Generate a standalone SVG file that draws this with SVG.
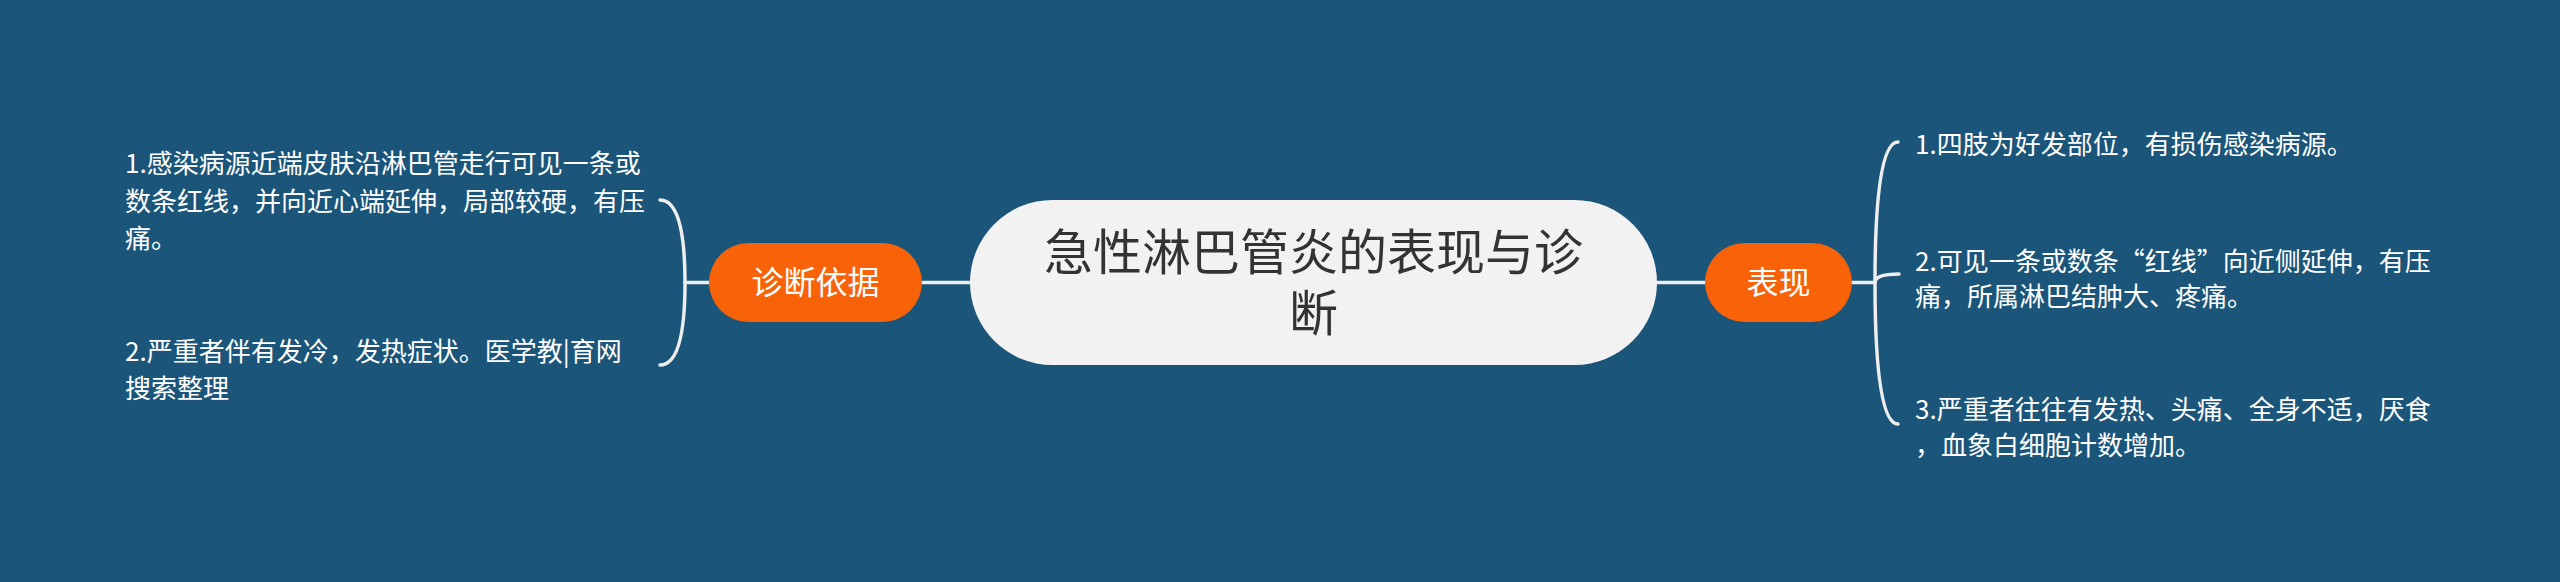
<svg xmlns="http://www.w3.org/2000/svg" width="2560" height="582" viewBox="0 0 2560 582">
  <style>
    .conn { fill: none; stroke: #eeeeee; stroke-width: 3.5; stroke-linecap: round; }
    .leaf { font-family: "Noto Sans CJK SC", "Noto Sans", sans-serif; font-size: 26px; fill: #ffffff; }
    .sub { font-family: "Noto Sans CJK SC", "Noto Sans", sans-serif; font-size: 32px; fill: #ffffff; text-anchor: middle; }
    .title { font-family: "Noto Sans CJK SC", "Noto Sans", sans-serif; font-size: 49px; fill: #333333; text-anchor: middle; }
    .orange { fill: #f86208; }
  </style>
  <rect x="0" y="0" width="2560" height="582" fill="#1b5579"/>

  <g id="connectors">
    <path class="conn" d="M 922 282.5 L 970 282.5"/>
    <path class="conn" d="M 1657 282.5 L 1705 282.5"/>
    <path class="conn" d="M 709 282.5 L 685 282.5"/>
    <path class="conn" d="M 685 282.5 Q 685 200 660 200"/>
    <path class="conn" d="M 685 282.5 Q 685 365 660 365"/>
    <path class="conn" d="M 1852 282.5 L 1875 282.5"/>
    <path class="conn" d="M 1875 282.5 Q 1875 142 1898 142"/>
    <path class="conn" d="M 1875 282.5 Q 1875 274 1899 274"/>
    <path class="conn" d="M 1875 282.5 Q 1875 424 1898 424"/>
  </g>

  <g id="center">
    <rect x="970" y="200" width="687" height="165" rx="82.5" ry="82.5" fill="#f2f2f2"/>
    <text class="title"><tspan x="1313.5" y="270">急性淋巴管炎的表现与诊</tspan><tspan x="1313.5" y="331">断</tspan></text>
  </g>

  <g id="node-zhenduan">
    <rect class="orange" x="709" y="243" width="213" height="79" rx="39.5" ry="39.5"/>
    <text class="sub" x="815.5" y="294">诊断依据</text>
  </g>

  <g id="node-biaoxian">
    <rect class="orange" x="1705" y="243" width="147" height="79" rx="39.5" ry="39.5"/>
    <text class="sub" x="1778.5" y="294">表现</text>
  </g>

  <g id="left-1">
    <text class="leaf"><tspan x="125" y="173">1.感染病源近端皮肤沿淋巴管走行可见一条或</tspan><tspan x="125" y="211">数条红线，并向近心端延伸，局部较硬，有压</tspan><tspan x="125" y="248">痛。</tspan></text>
  </g>

  <g id="left-2">
    <text class="leaf"><tspan x="125" y="361">2.严重者伴有发冷，发热症状。医学教|育网</tspan><tspan x="125" y="398">搜索整理</tspan></text>
  </g>

  <g id="right-1">
    <text class="leaf" x="1915" y="154">1.四肢为好发部位，有损伤感染病源。</text>
  </g>

  <g id="right-2">
    <text class="leaf"><tspan x="1915" y="271">2.可见一条或数条“红线”向近侧延伸，有压</tspan><tspan x="1915" y="306">痛，所属淋巴结肿大、疼痛。</tspan></text>
  </g>

  <g id="right-3">
    <text class="leaf"><tspan x="1915" y="419">3.严重者往往有发热、头痛、全身不适，厌食</tspan><tspan x="1915" y="455">，血象白细胞计数增加。</tspan></text>
  </g>
</svg>
